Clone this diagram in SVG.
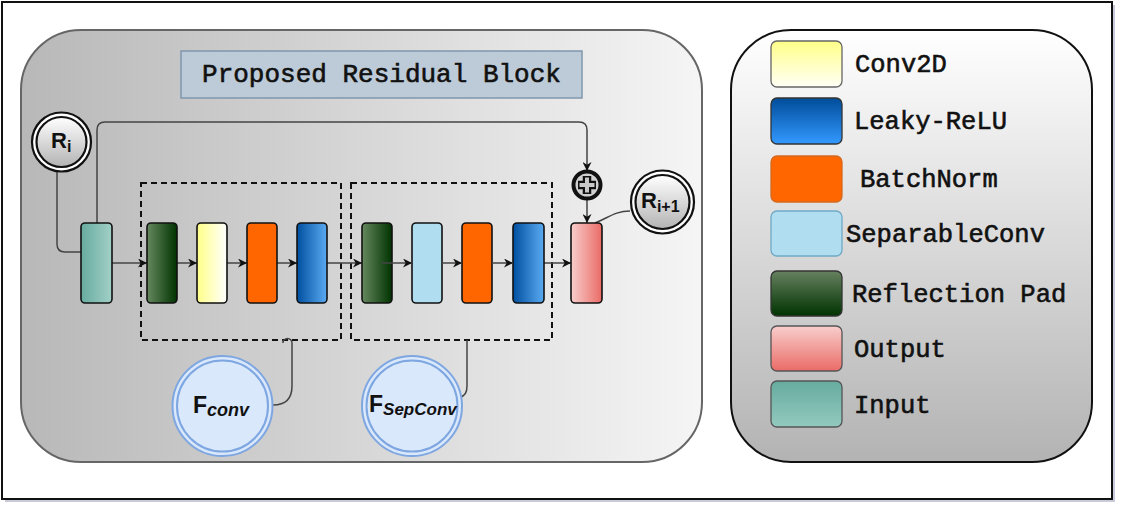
<svg xmlns="http://www.w3.org/2000/svg" width="1123" height="513" viewBox="0 0 1123 513">
<defs>
<style>
.blk{stroke:#111;stroke-width:1.6}
.sw{stroke-width:1.3}
.mono{font-family:"Liberation Mono","Courier New",monospace;font-weight:normal;fill:#111;stroke:#111;stroke-width:0.6}
.leg{font-size:25.5px}
.sans{font-family:"Liberation Sans",Arial,sans-serif;fill:#111}
.conn{fill:none;stroke:#444;stroke-width:1.5}
.flow{fill:none;stroke:#444;stroke-width:1.5;marker-end:url(#ah)}
.dash{fill:none;stroke:#111;stroke-width:2;stroke-dasharray:6 4}
</style>
<marker id="ah" viewBox="0 0 10 10" refX="10" refY="5" markerWidth="9" markerHeight="9" markerUnits="userSpaceOnUse" orient="auto">
<path d="M0,0 L10,5 L0,10 L3,5 z" fill="#111"/>
</marker>
<linearGradient id="gMain" x1="0" y1="0" x2="1" y2="0"><stop offset="0" stop-color="#b8b8b8"/><stop offset="1" stop-color="#f5f5f5"/></linearGradient>
<linearGradient id="gLeg" x1="0" y1="0" x2="0" y2="1"><stop offset="0" stop-color="#ffffff"/><stop offset="1" stop-color="#b3b3b3"/></linearGradient>
<linearGradient id="gR" x1="0" y1="0" x2="0" y2="1"><stop offset="0" stop-color="#ffffff"/><stop offset="1" stop-color="#b3b3b3"/></linearGradient>
<linearGradient id="hIn" x1="0" y1="0" x2="1" y2="0"><stop offset="0" stop-color="#67ab9f"/><stop offset="1" stop-color="#a2d0c7"/></linearGradient>
<linearGradient id="hRp" x1="0" y1="0" x2="1" y2="0"><stop offset="0" stop-color="#66885f"/><stop offset="1" stop-color="#003300"/></linearGradient>
<linearGradient id="hCv" x1="0" y1="0" x2="1" y2="0"><stop offset="0" stop-color="#ffff88"/><stop offset="1" stop-color="#ffffff"/></linearGradient>
<linearGradient id="hLr" x1="0" y1="0" x2="1" y2="0"><stop offset="0" stop-color="#0050a0"/><stop offset="1" stop-color="#5aaaf2"/></linearGradient>
<linearGradient id="hOut" x1="0" y1="0" x2="1" y2="0"><stop offset="0" stop-color="#f8cecc"/><stop offset="1" stop-color="#ea6b66"/></linearGradient>
<linearGradient id="vIn" x1="0" y1="0" x2="0" y2="1"><stop offset="0" stop-color="#67ab9f"/><stop offset="1" stop-color="#93c9bf"/></linearGradient>
<linearGradient id="vRp" x1="0" y1="0" x2="0" y2="1"><stop offset="0" stop-color="#66805f"/><stop offset="1" stop-color="#003300"/></linearGradient>
<linearGradient id="vCv" x1="0" y1="0" x2="0" y2="1"><stop offset="0" stop-color="#ffff88"/><stop offset="1" stop-color="#fffff6"/></linearGradient>
<linearGradient id="vLr" x1="0" y1="0" x2="0" y2="1"><stop offset="0" stop-color="#004c99"/><stop offset="1" stop-color="#3399ff"/></linearGradient>
<linearGradient id="vOut" x1="0" y1="0" x2="0" y2="1"><stop offset="0" stop-color="#f8cecc"/><stop offset="1" stop-color="#ea6b66"/></linearGradient>
</defs>

<!-- outer frame -->
<rect x="5" y="5" width="1110" height="497" fill="#c9cbdb"/>
<rect x="2" y="2" width="1110" height="497" fill="#ffffff" stroke="#111" stroke-width="2"/>

<!-- main panel -->
<g id="panel">
<rect x="21" y="30" width="681" height="432" rx="60" ry="60" fill="url(#gMain)" stroke="#666" stroke-width="2"/>
</g>
<g id="title">
<rect x="181" y="51" width="401" height="47" fill="#bccbd7" stroke="#7f97ad" stroke-width="1.5"/>
<text class="mono" x="381.5" y="82" font-size="26" text-anchor="middle">Proposed Residual Block</text>
</g>

<!-- dashed groups -->
<g id="fconv-box"><rect class="dash" x="141" y="183" width="200" height="157"/></g>
<g id="fsep-box"><rect class="dash" x="351" y="183" width="201" height="157"/></g>

<!-- connectors -->
<g id="connectors">
<path class="conn" d="M57,172 V244 Q57,252 65,252 H81"/>
<path class="flow" d="M97,223 V130 Q97,122 105,122 H579 Q587,122 587,130 V171"/>
<path class="flow" d="M587,199 V223"/>
<path class="conn" d="M595,223 C608,218 615,211 630,211"/>
<path class="flow" d="M112,263 H147"/>
<path class="flow" d="M177,263 H197"/>
<path class="flow" d="M227,263 H247"/>
<path class="flow" d="M277,263 H297"/>
<path class="flow" d="M327,263 H362"/>
<path class="flow" d="M544,263 H571"/>
<path class="conn" d="M273,405 C288,405 292,396 292,386 V343 A4.5,4.5 0 0 0 283,343 V340"/>
<path class="conn" d="M467,340 V386 Q467,396 460,397"/>
</g>

<!-- blocks -->
<g id="input"><rect class="blk" x="81" y="223" width="31" height="80" rx="4" fill="url(#hIn)"/></g>
<g id="rpad1"><rect class="blk" x="147" y="223" width="30" height="80" rx="4" fill="url(#hRp)"/></g>
<g id="conv2d"><rect class="blk" x="197" y="223" width="30" height="80" rx="4" fill="url(#hCv)"/></g>
<g id="bn1"><rect class="blk" x="247" y="223" width="30" height="80" rx="4" fill="#ff6600"/></g>
<g id="lrelu1"><rect class="blk" x="297" y="223" width="30" height="80" rx="4" fill="url(#hLr)"/></g>
<g id="rpad2"><rect class="blk" x="362" y="223" width="30" height="80" rx="4" fill="url(#hRp)"/></g>
<g id="sepconv"><rect class="blk" x="412" y="223" width="30" height="80" rx="4" fill="#b1ddf0"/></g>
<g id="bn2"><rect class="blk" x="462" y="223" width="30" height="80" rx="4" fill="#ff6600"/></g>
<g id="lrelu2"><rect class="blk" x="513" y="223" width="31" height="80" rx="4" fill="url(#hLr)"/></g>
<g id="output"><rect class="blk" x="571" y="223" width="31" height="80" rx="4" fill="url(#hOut)"/></g>

<!-- arrows drawn over blocks -->
<g id="connectors-over">
<path class="flow" d="M382,263 H412"/>
<path class="flow" d="M442,263 H462"/>
<path class="flow" d="M492,263 H513"/>
</g>

<!-- sum -->
<g id="sum">
<circle cx="587" cy="185" r="13.5" fill="#d0d0d0" stroke="#111" stroke-width="4"/>
<path d="M587,176 V194 M578,185 H596" stroke="#111" stroke-width="8.5" stroke-linecap="butt"/>
<path d="M587,177.5 V192.5 M579.5,185 H594.5" stroke="#c8c8c8" stroke-width="4"/>
</g>

<!-- R nodes -->
<g id="r-i">
<circle cx="61.5" cy="142" r="29.5" fill="#fff" stroke="#111" stroke-width="2.2"/>
<circle cx="61.5" cy="142" r="25" fill="url(#gR)" stroke="#111" stroke-width="2.2"/>
<text class="sans" x="51" y="148" font-size="22" font-weight="bold">R<tspan font-size="16" dy="4">i</tspan></text>
</g>
<g id="r-i1">
<circle cx="662.5" cy="202" r="31.5" fill="#fff" stroke="#111" stroke-width="2.2"/>
<circle cx="662.5" cy="202" r="27" fill="url(#gR)" stroke="#111" stroke-width="2.2"/>
<text class="sans" x="641" y="208" font-size="22" font-weight="bold">R<tspan font-size="16" dy="4">i+1</tspan></text>
</g>

<!-- F nodes -->
<g id="f-conv">
<circle cx="222.5" cy="406" r="50" fill="#dae8fc" stroke="#7ea6e0" stroke-width="2"/>
<circle cx="222.5" cy="406" r="45.5" fill="#dae8fc" stroke="#7ea6e0" stroke-width="2"/>
<text class="sans" x="193" y="413" font-size="23" font-weight="bold">F<tspan font-size="18" font-style="italic" dy="3">conv</tspan></text>
</g>
<g id="f-sepconv">
<circle cx="412" cy="406" r="50" fill="#dae8fc" stroke="#7ea6e0" stroke-width="2"/>
<circle cx="412" cy="406" r="45.5" fill="#dae8fc" stroke="#7ea6e0" stroke-width="2"/>
<text class="sans" x="369" y="412" font-size="23" font-weight="bold">F<tspan font-size="17" font-style="italic" dy="3">SepConv</tspan></text>
</g>

<!-- legend -->
<g id="legend">
<rect x="731" y="30" width="361" height="432" rx="60" ry="60" fill="url(#gLeg)" stroke="#111" stroke-width="2"/>
</g>
<g id="leg-conv2d"><rect class="sw" x="771" y="41" width="71" height="46" rx="6" fill="url(#vCv)" stroke="#666"/><text class="mono leg" x="855" y="72">Conv2D</text></g>
<g id="leg-lrelu"><rect class="sw" x="771" y="98" width="71" height="46" rx="6" fill="url(#vLr)" stroke="#333"/><text class="mono leg" x="854" y="129">Leaky-ReLU</text></g>
<g id="leg-bn"><rect class="sw" x="771" y="156" width="71" height="46" rx="6" fill="#ff6600" stroke="#d36a20"/><text class="mono leg" x="860" y="187">BatchNorm</text></g>
<g id="leg-sep"><rect class="sw" x="771" y="211" width="71" height="45" rx="6" fill="#b1ddf0" stroke="#6fa9c6"/><text class="mono leg" x="846" y="242">SeparableConv</text></g>
<g id="leg-rpad"><rect class="sw" x="771" y="271" width="71" height="45" rx="6" fill="url(#vRp)" stroke="#333"/><text class="mono leg" x="852" y="302">Reflection Pad</text></g>
<g id="leg-out"><rect class="sw" x="771" y="326" width="71" height="45" rx="6" fill="url(#vOut)" stroke="#555"/><text class="mono leg" x="854" y="357">Output</text></g>
<g id="leg-in"><rect class="sw" x="771" y="381" width="71" height="46" rx="6" fill="url(#vIn)" stroke="#555"/><text class="mono leg" x="854" y="413">Input</text></g>
</svg>
